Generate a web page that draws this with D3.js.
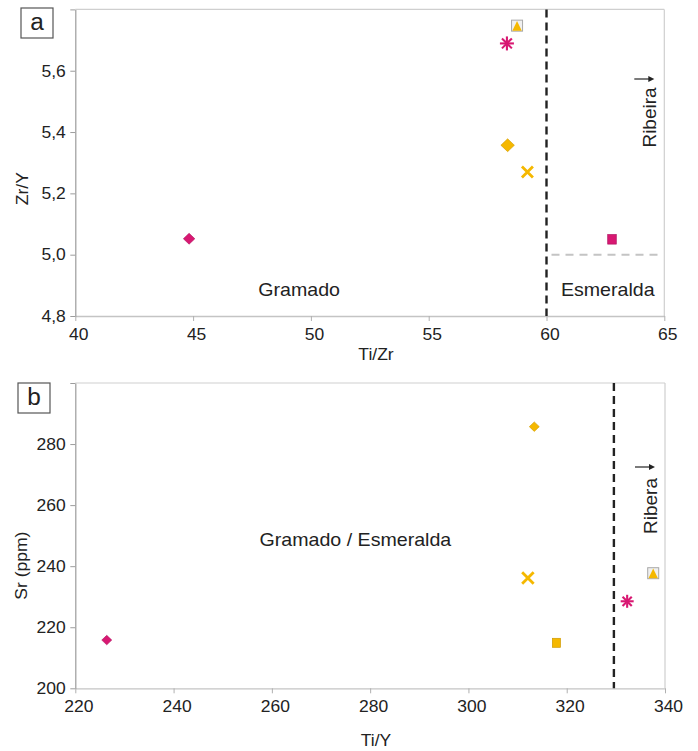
<!DOCTYPE html>
<html><head><meta charset="utf-8">
<script src="https://cdn.jsdelivr.net/npm/d3@7"></script>
<style>
body{margin:0;background:#fff}
svg{display:block}
text{font-family:"Liberation Sans",Arial,Helvetica,sans-serif;fill:#222}
</style>
</head><body><svg id="c" width="698" height="751"></svg>
<script>
// ---------- Panel a: Zr/Y vs Ti/Zr ----------
const markersA = ["diamond","square","asterisk","diamond","cross","triangle"];
const groupsA  = ["magenta","magenta","magenta","yellow","yellow","yellow"];
const tiZr = [44.83, 62.78, 58.32, 58.35, 59.19, 58.75];
const zrY  = [5.052, 5.050, 5.689, 5.357, 5.270, 5.747];
const xTicksA = [40,45,50,55,60,65];
const yTicksA = [4.8,5.0,5.2,5.4,5.6,5.8];
const yTickLabelsA = ["4,8","5,0","5,2","5,4","5,6",""];
const boundaryA = 60;
const esmeraldaLimitA = 5.0;

// ---------- Panel b: Sr vs Ti/Y ----------
const markersB = ["diamond","asterisk","diamond","cross","square","triangle"];
const groupsB  = ["magenta","magenta","yellow","yellow","yellow","yellow"];
const tiY = [226.4, 332.3, 313.4, 312.1, 317.9, 337.6];
const srPpm = [215.8, 228.5, 285.7, 236.1, 214.9, 237.7];
const xTicksB = [220,240,260,280,300,320,340];
const yTicksB = [200,220,240,260,280,300];
const yTickLabelsB = ["200","220","240","260","280",""];
const boundaryB = 329.6;

const COLORS = {magenta:"#d81872", yellow:"#f5b800"};
const EDGE = {magenta:"#b01060", yellow:"#cf9a00"};
const SX = 1.06; // slight horizontal stretch of the lettering

const svg = d3.select("#c");

function stretchedText(g, x, y, str, size, anchor, rotate){
  return g.append("text")
    .attr("transform", `translate(${x},${y})` + (rotate ? ` rotate(${rotate})` : "") + ` scale(${SX},1)`)
    .attr("text-anchor", anchor || "middle")
    .style("font-size", size + "px")
    .text(str);
}

function drawMarker(g, kind, group, cx, cy, size){
  const c = COLORS[group], e = EDGE[group];
  const m = g.append("g").attr("transform", `translate(${cx},${cy})`);
  const h = size/2;
  if (kind === "diamond") {
    m.append("path").attr("d", `M0,${-h*0.95}L${h},0L0,${h*0.95}L${-h},0Z`)
      .attr("fill", c).attr("stroke", e).attr("stroke-width", 0.6);
  } else if (kind === "square") {
    m.append("rect").attr("x", -h*0.9).attr("y", -h).attr("width", size*0.9).attr("height", size)
      .attr("fill", c).attr("stroke", e).attr("stroke-width", 0.7);
  } else if (kind === "asterisk") {
    [0,45,90,135].forEach(a => {
      const r = a*Math.PI/180;
      m.append("line").attr("x1", -h*Math.cos(r)).attr("y1", -h*Math.sin(r))
        .attr("x2", h*Math.cos(r)).attr("y2", h*Math.sin(r))
        .attr("stroke", c).attr("stroke-width", 2.1);
    });
  } else if (kind === "cross") {
    m.append("path").attr("d", `M${-h},${-h}L${h},${h}M${-h},${h}L${h},${-h}`)
      .attr("stroke", c).attr("stroke-width", 2.8).attr("fill","none");
  } else if (kind === "triangle") {
    m.append("rect").attr("x", -h).attr("y", -h).attr("width", size).attr("height", size)
      .attr("fill", "#f0f0f0").attr("stroke", "#a8a8a8").attr("stroke-width", 1);
    m.append("path").attr("d", `M0,${-h+0.8}L${h-0.8},${h-0.5}L${-h+0.8},${h-0.5}Z`)
      .attr("fill", c);
  }
}

function arrow(g, x1, x2, y){
  g.append("line").attr("x1", x1).attr("x2", x2-4).attr("y1", y).attr("y2", y)
    .attr("stroke", "#333").attr("stroke-width", 1.3);
  g.append("path").attr("d", `M${x2},${y}L${x2-6},${y-3}L${x2-6},${y+3}Z`).attr("fill", "#222");
}

function panel(cfg){
  const g = svg.append("g");
  const x = d3.scaleLinear().domain(cfg.xDomain).range([cfg.left, cfg.right]);
  const y = d3.scaleLinear().domain(cfg.yDomain).range([cfg.bottom, cfg.top]);

  g.append("line").attr("x1", x.range()[0]).attr("x2", x.range()[1]).attr("y1", y.range()[1]).attr("y2", y.range()[1])
    .attr("stroke", "#cfcfcf").attr("stroke-width", 1.2);
  g.append("line").attr("x1", x.range()[1]).attr("x2", x.range()[1]).attr("y1", y.range()[1]).attr("y2", y.range()[0])
    .attr("stroke", "#cfcfcf").attr("stroke-width", 1.2);

  const xa = g.append("g").attr("transform", `translate(0,${cfg.bottom})`)
    .call(d3.axisBottom(x).tickValues(cfg.xTicks).tickFormat(d3.format("d")).tickSize(5).tickSizeOuter(0).tickPadding(7));
  xa.attr("font-family", null);
  xa.select(".domain").attr("stroke", "#c4c4c4").attr("stroke-width", 1.3);
  xa.selectAll(".tick line").attr("stroke", "#b0b0b0");
  xa.selectAll(".tick text").style("font-size", "16.5px")
    .attr("fill", "#222").attr("transform", `translate(3,0) scale(${SX},1)`);

  const ya = g.append("g").attr("transform", `translate(${cfg.left},0)`)
    .call(d3.axisLeft(y).tickValues(cfg.yTicks).tickFormat((d,i) => cfg.yLabels[i]).tickSize(5).tickSizeOuter(0).tickPadding(4));
  ya.attr("font-family", null);
  ya.select(".domain").attr("stroke", "#9c9c9c").attr("stroke-width", 1.2);
  ya.selectAll(".tick line").attr("stroke", "#9c9c9c");
  ya.selectAll(".tick text").style("font-size", "16.5px")
    .attr("fill", "#222").attr("transform", `scale(${SX},1)`);

  g.append("line").attr("x1", x(cfg.boundary)).attr("x2", x(cfg.boundary))
    .attr("y1", y.range()[1]).attr("y2", y.range()[0])
    .attr("stroke", "#222").attr("stroke-width", 2.4).attr("stroke-dasharray", "8,5");

  if (cfg.extra) cfg.extra(g, x, y);

  g.append("rect").attr("x", cfg.box[0]).attr("y", cfg.box[1]).attr("width", 32).attr("height", 30)
    .attr("fill", "#fff").attr("stroke", "#555").attr("stroke-width", 1.2);
  stretchedText(g, cfg.box[0]+16, cfg.box[1]+cfg.letterDy, cfg.letter, 23);

  cfg.xs.forEach((v, i) => {
    const size = cfg.sizeOf(cfg.markers[i], cfg.groups[i]);
    drawMarker(g, cfg.markers[i], cfg.groups[i], x(v), y(cfg.ys[i]), size);
  });

  stretchedText(g, 376, cfg.xTitleY, cfg.xTitle, 16.5);
  stretchedText(g, cfg.yTitleX, (cfg.top+cfg.bottom)/2 + cfg.yTitleDy, cfg.yTitle, 16.5, "middle", -90);

  cfg.regions.forEach(r => stretchedText(g, x(r.x), y(r.y), r.text, 18.5));
  arrow(g, x.range()[1]-30, x.range()[1]-10, cfg.arrowY);
  g.append("text").attr("transform", `translate(${x.range()[1]-8},${cfg.ribY}) rotate(-90)`)
    .attr("text-anchor", "middle").style("font-size", "19px").text(cfg.ribText);
  return {x, y};
}

panel({
  xDomain:[40,65], yDomain:[4.8,5.8], left:75.3, right:664.3, top:9.4, bottom:316,
  xTicks:xTicksA, yTicks:yTicksA, yLabels:yTickLabelsA, boundary:boundaryA,
  box:[21,8], letter:"a", letterDy:22,
  xs:tiZr, ys:zrY, markers:markersA, groups:groupsA,
  sizeOf:(k,gp) => k==="diamond" ? (gp==="yellow" ? 13.5 : 11.5) : k==="asterisk" ? 14 : k==="cross" ? 11 : k==="square" ? 9.5 : 11,
  xTitle:"Ti/Zr", xTitleY:360, yTitle:"Zr/Y", yTitleX:28, yTitleDy:26,
  regions:[{x:49.5, y:4.865, text:"Gramado"}, {x:62.6, y:4.866, text:"Esmeralda"}],
  arrowY:79, ribY:117.5, ribText:"Ribeira",
  extra:(g, x, y) => {
    g.append("line").attr("x1", x(boundaryA)+5).attr("x2", x(65)-4)
      .attr("y1", y(esmeraldaLimitA)).attr("y2", y(esmeraldaLimitA))
      .attr("stroke", "#c4c4c4").attr("stroke-width", 2).attr("stroke-dasharray", "8,6");
  }
});

panel({
  xDomain:[220,340], yDomain:[200,300], left:75.3, right:665, top:383, bottom:688.3,
  xTicks:xTicksB, yTicks:yTicksB, yLabels:yTickLabelsB, boundary:boundaryB,
  box:[18,383], letter:"b", letterDy:22,
  xs:tiY, ys:srPpm, markers:markersB, groups:groupsB,
  sizeOf:(k,gp) => k==="diamond" ? 10 : k==="asterisk" ? 13 : k==="cross" ? 11.5 : k==="square" ? 9 : 11,
  xTitle:"Ti/Y", xTitleY:746, yTitle:"Sr (ppm)", yTitleX:27, yTitleDy:30,
  regions:[{x:277, y:246.6, text:"Gramado / Esmeralda"}],
  arrowY:467, ribY:506, ribText:"Ribera"
});
</script>
</body></html>
